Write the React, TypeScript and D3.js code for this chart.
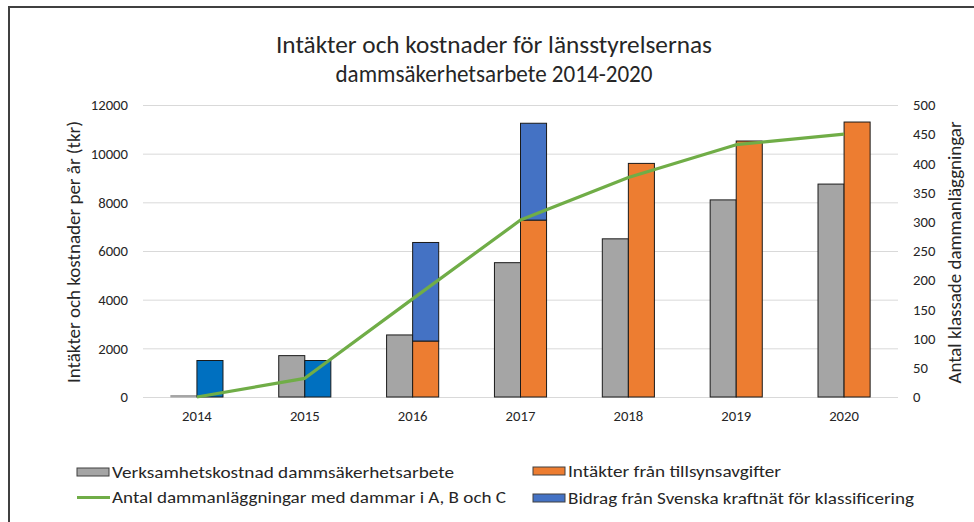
import { useEffect, useRef } from "react";
import * as d3 from "d3";

const years = ["2014", "2015", "2016", "2017", "2018", "2019", "2020"];
// tkr per year
const kostnad = [60, 1700, 2550, 5520, 6500, 8100, 8750];
const intakter = [0, 0, 2300, 7270, 9600, 10520, 11300];
const bidrag = [1500, 1500, 4050, 3980, 0, 0, 0];
// number of classified dams (right axis)
const dammar = [0, 32, 168, 303, 376, 432, 450];

const leftTicks = [0, 2000, 4000, 6000, 8000, 10000, 12000];
const rightTicks = [0, 50, 100, 150, 200, 250, 300, 350, 400, 450, 500];

const titleLines = ["Intäkter och kostnader för länsstyrelsernas", "dammsäkerhetsarbete 2014-2020"];
const leftTitle = "Intäkter och kostnader per år (tkr)";
const rightTitle = "Antal klassade dammanläggningar";
const legendLabels = {
  kostnad: "Verksamhetskostnad dammsäkerhetsarbete",
  intakter: "Intäkter från tillsynsavgifter",
  dammar: "Antal dammanläggningar med dammar i A, B och C",
  bidrag: "Bidrag från Svenska kraftnät för klassificering",
};

const W = 974;
const H = 522;
const FONT = "Carlito, Lato, sans-serif";
const GREY = "#A5A5A5";
const ORANGE = "#ED7D31";
const BLUE = "#4472C4";
const BLUE_DARK = "#0070C0";
const GREEN = "#70AD47";
const TEXT = "#262626";

export default function App() {
  const ref = useRef<SVGSVGElement>(null);

  useEffect(() => {
    if (!ref.current) return;
    const svg = d3.select(ref.current);
    svg.selectAll("*").remove();

    const plot = { left: 143, right: 898, top: 105, bottom: 397 };

    const x = d3.scaleBand<string>().domain(years).range([plot.left, plot.right]).padding(0);
    const sub = d3.scaleBand<string>()
      .domain(["cost", "income"])
      .range([0, x.bandwidth()])
      .paddingInner(0)
      .paddingOuter(1.07);
    const yL = d3.scaleLinear().domain([0, 12000]).range([plot.bottom, plot.top]);
    const yR = d3.scaleLinear().domain([0, 500]).range([plot.bottom, plot.top]);

    // chart frame
    svg.append("rect")
      .attr("x", 9).attr("y", 7)
      .attr("width", W + 20).attr("height", H + 20)
      .attr("fill", "white")
      .attr("stroke", "#404040")
      .attr("stroke-width", 2);

    // title
    svg.append("g")
      .selectAll("text")
      .data(titleLines)
      .join("text")
      .attr("x", 494)
      .attr("y", (_, i) => 53 + i * 28.5)
      .attr("text-anchor", "middle")
      .attr("font-family", FONT)
      .attr("font-size", 24.5)
      .attr("fill", TEXT)
      .attr("textLength", (_, i) => (i === 0 ? 436 : 317))
      .attr("lengthAdjust", "spacingAndGlyphs")
      .text((d) => d);

    // left axis + grid
    svg.append("g")
      .attr("transform", `translate(${plot.left},0)`)
      .call(d3.axisLeft(yL).tickValues(leftTicks).tickFormat(d3.format("d")).tickSize(0).tickPadding(15))
      .call((g) => {
        g.select(".domain").remove();
        g.selectAll(".tick line").remove();
        g.selectAll(".tick")
          .append("line")
          .attr("x1", 0)
          .attr("x2", plot.right - plot.left)
          .attr("stroke", "#D9D9D9")
          .attr("stroke-width", 1);
        g.selectAll(".tick text")
          .attr("fill", TEXT)
          .attr("font-family", FONT)
          .attr("font-size", 14.7);
      });

    // right axis
    svg.append("g")
      .attr("transform", `translate(${plot.right},0)`)
      .call(d3.axisRight(yR).tickValues(rightTicks).tickFormat(d3.format("d")).tickSize(0).tickPadding(15))
      .call((g) => {
        g.select(".domain").remove();
        g.selectAll(".tick line").remove();
        g.selectAll(".tick text")
          .attr("fill", TEXT)
          .attr("font-family", FONT)
          .attr("font-size", 14.7);
      });

    // bottom axis labels
    svg.append("g")
      .attr("transform", `translate(0,${plot.bottom})`)
      .call(d3.axisBottom(x).tickSize(0).tickPadding(14))
      .call((g) => {
        g.select(".domain").remove();
        g.selectAll(".tick text")
          .attr("fill", TEXT)
          .attr("font-family", FONT)
          .attr("font-size", 14.7);
      });

    const bars = svg.append("g");
    const rows = years.map((year, i) => ({ year, i }));

    // Verksamhetskostnad
    bars.selectAll("rect.cost")
      .data(rows)
      .join("rect")
      .attr("class", "cost")
      .attr("x", (d) => x(d.year)! + sub("cost")!)
      .attr("y", (d) => yL(kostnad[d.i]))
      .attr("width", sub.bandwidth())
      .attr("height", (d) => yL(0) - yL(kostnad[d.i]))
      .attr("fill", GREY)
      .attr("stroke", (d) => (yL(0) - yL(kostnad[d.i]) < 3 ? GREY : "#1a1a1a"))
      .attr("stroke-width", 1);

    // Intäkter (orange), bottom of stack
    bars.selectAll("rect.income")
      .data(rows.filter((d) => intakter[d.i] > 0))
      .join("rect")
      .attr("class", "income")
      .attr("x", (d) => x(d.year)! + sub("income")!)
      .attr("y", (d) => yL(intakter[d.i]))
      .attr("width", sub.bandwidth())
      .attr("height", (d) => yL(0) - yL(intakter[d.i]))
      .attr("fill", ORANGE)
      .attr("stroke", "#1a1a1a")
      .attr("stroke-width", 1);

    // Bidrag (blue), stacked on top of intäkter
    bars.selectAll("rect.bidrag")
      .data(rows.filter((d) => bidrag[d.i] > 0))
      .join("rect")
      .attr("class", "bidrag")
      .attr("x", (d) => x(d.year)! + sub("income")!)
      .attr("y", (d) => yL(intakter[d.i] + bidrag[d.i]))
      .attr("width", sub.bandwidth())
      .attr("height", (d) => yL(intakter[d.i]) - yL(intakter[d.i] + bidrag[d.i]))
      .attr("fill", (d) => (intakter[d.i] > 0 ? BLUE : BLUE_DARK))
      .attr("stroke", "#1a1a1a")
      .attr("stroke-width", 1);

    // dams line (right axis)
    const line = d3.line<number>()
      .x((_, i) => x(years[i])! + x.bandwidth() / 2)
      .y((d) => yR(d));

    svg.append("path")
      .datum(dammar)
      .attr("fill", "none")
      .attr("stroke", GREEN)
      .attr("stroke-width", 3.2)
      .attr("stroke-linejoin", "round")
      .attr("d", line);

    // axis titles
    svg.append("text")
      .attr("transform", `translate(80,252) rotate(-90)`)
      .attr("text-anchor", "middle")
      .attr("font-family", FONT)
      .attr("font-size", 18)
      .attr("fill", TEXT)
      .attr("textLength", 262)
      .attr("lengthAdjust", "spacingAndGlyphs")
      .text(leftTitle);

    svg.append("text")
      .attr("transform", `translate(961,252.5) rotate(-90)`)
      .attr("text-anchor", "middle")
      .attr("font-family", FONT)
      .attr("font-size", 18)
      .attr("fill", TEXT)
      .attr("textLength", 262)
      .attr("lengthAdjust", "spacingAndGlyphs")
      .text(rightTitle);

    // legend
    const legend = svg.append("g").attr("font-family", FONT).attr("font-size", 16.5).attr("fill", TEXT);
    const items = [
      { key: "kostnad", kind: "rect", color: GREY, x: 77, y: 472, len: 342 },
      { key: "intakter", kind: "rect", color: ORANGE, x: 533, y: 471, len: 213 },
      { key: "dammar", kind: "line", color: GREEN, x: 77, y: 497.5, len: 394 },
      { key: "bidrag", kind: "rect", color: BLUE, x: 533, y: 498, len: 346 },
    ];
    items.forEach((it) => {
      if (it.kind === "rect") {
        legend.append("rect")
          .attr("x", it.x).attr("y", it.y - 4)
          .attr("width", 32).attr("height", 8)
          .attr("fill", it.color)
          .attr("stroke", "#404040")
          .attr("stroke-width", 1);
      } else {
        legend.append("line")
          .attr("x1", it.x).attr("x2", it.x + 33)
          .attr("y1", it.y).attr("y2", it.y)
          .attr("stroke", it.color)
          .attr("stroke-width", 3.2);
      }
      legend.append("text")
        .attr("x", it.x + 35)
        .attr("y", it.y)
        .attr("dy", "0.35em")
        .attr("textLength", it.len)
        .attr("lengthAdjust", "spacingAndGlyphs")
        .text(legendLabels[it.key as keyof typeof legendLabels]);
    });
  }, []);

  return (
    <div style={{ position: "absolute", left: 0, top: 0 }}>
      <svg ref={ref} width={W} height={H} style={{ display: "block" }} />
    </div>
  );
}
